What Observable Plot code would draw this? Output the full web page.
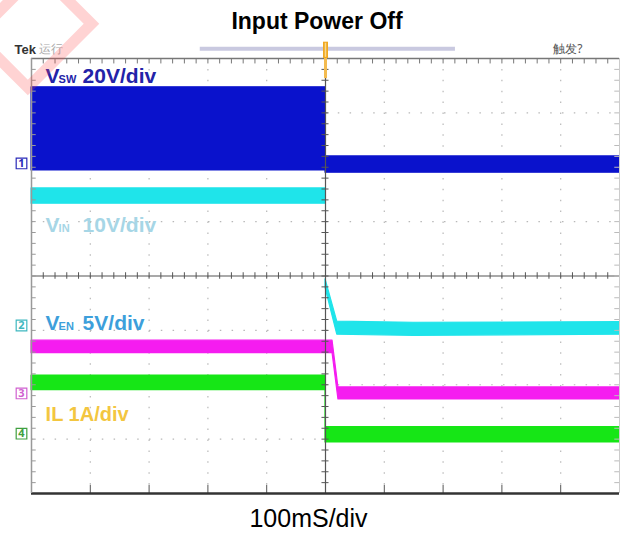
<!DOCTYPE html>
<html>
<head>
<meta charset="utf-8">
<script src="https://cdn.jsdelivr.net/npm/d3@7"></script>
<script src="https://cdn.jsdelivr.net/npm/@observablehq/plot@0.6"></script>
<style>
  html, body { margin: 0; padding: 0; background: #fff; }
  #wrap { position: relative; width: 624px; height: 533px; overflow: hidden; font-family: "Liberation Sans", Arial, sans-serif; }
  #title { position: absolute; left: 0; top: 0; width: 634px; height: 38px; text-align: center; font-weight: bold; font-size: 23px; line-height: 42px; color: #000; }
  #chart { position: absolute; left: 0; top: 38px; }
  #caption { position: absolute; left: 0; top: 500px; width: 617px; text-align: center; font-size: 25px; line-height: 36px; color: #000; }
  .wm { position: absolute; box-sizing: border-box; border: 11px solid rgba(255, 70, 70, 0.24); transform: rotate(45deg); pointer-events: none; }
</style>
</head>
<body>
<div id="wrap">
  <div id="title">Input Power Off</div>
  <div id="chart"></div>
  <div id="caption">100mS/div</div>
  <div class="wm" style="left:-9px; top:-21px; width:85px; height:101px;"></div>
</div>
<script>
// ---- Data (x in divisions 0..10, 100 mS/div; y in divisions -4..4) ----
const vswT  = [0, 5, 5, 10];
const vswLo = [1.94, 1.94, 1.90, 1.90];
const vswHi = [3.47, 3.47, 2.20, 2.20];

const vinT  = [0, 5];
const vinLo = [1.33, 1.33];
const vinHi = [1.61, 1.61];

const venT  = [5, 5.2, 6.5, 10];
const venLo = [-0.22, -1.08, -1.10, -1.08];
const venHi = [-0.06, -0.84, -0.86, -0.85];

const magT  = [0, 5.12, 5.22, 10];
const magLo = [-1.42, -1.42, -2.27, -2.27];
const magHi = [-1.19, -1.19, -2.05, -2.05];

const grnT  = [0, 5, 5, 10];
const grnLo = [-2.10, -2.10, -3.06, -3.06];
const grnHi = [-1.83, -1.83, -2.78, -2.78];

const traceNames  = ["Vsw", "Vin", "Ven", "Mag", "Grn"];
const traceColors = ["#0a12cc", "#1fe4ea", "#1fe4ea", "#f51cf0", "#16e616"];

const labelMain  = ["V", "V", "V", "IL 1A/div"];
const labelSub   = ["SW", "IN", "EN", ""];
const labelRest  = ["20V/div", "10V/div", "5V/div", ""];
const labelY     = [3.67, 0.93, -0.87, -2.55];
const labelColor = ["#2323a8", "#a6d6e6", "#3d9fdb", "#f3c640"];

const markerText  = ["1", "2", "3", "4"];
const markerY     = [2.07, -0.91, -2.16, -2.9];
const markerColor = ["#2a2ab8", "#3fb8c0", "#d060d0", "#40a040"];

// ---- Build tables ----
function band(name, t, lo, hi) { return t.map((v, i) => ({name, t: v, lo: lo[i], hi: hi[i]})); }
const bands = [
  band("Vsw", vswT, vswLo, vswHi),
  band("Vin", vinT, vinLo, vinHi),
  band("Ven", venT, venLo, venHi),
  band("Mag", magT, magLo, magHi),
  band("Grn", grnT, grnLo, grnHi)
];
const labels = labelMain.map((m, i) => ({main: m, sub: labelSub[i], rest: labelRest[i], y: labelY[i], color: labelColor[i]}));
const markers = markerText.map((m, i) => ({text: m, y: markerY[i], color: markerColor[i]}));

const majorX = d3.range(0, 11);
const majorY = d3.range(-4, 5);
const minorX = d3.range(0, 50.001).map(i => i / 5);
const minorY = d3.range(0, 40.001).map(i => -4 + i / 5);

const font = "'Liberation Sans', Arial, sans-serif";

const marks = [
  // dotted grid
  Plot.ruleX(majorX.filter(d => d > 0 && d < 10 && d !== 5), {stroke: "#b8b8b8", strokeDasharray: "1.5,9.4", strokeWidth: 1.2}),
  Plot.ruleY(majorY.filter(d => d > -4 && d < 4 && d !== 0), {stroke: "#b8b8b8", strokeDasharray: "1.5,10.3", strokeWidth: 1.2}),
  // traces
  ...bands.map((b, i) => Plot.areaY(b, {x: "t", y1: "lo", y2: "hi", fill: traceColors[i], stroke: traceColors[i], strokeWidth: 1.2, curve: "linear"})),
  // center cross
  Plot.ruleX([5], {stroke: "#555", strokeWidth: 1.2}),
  Plot.ruleY([0], {stroke: "#555", strokeWidth: 1.2}),
  Plot.ruleX(minorX, {y1: -0.06, y2: 0.06, stroke: "#555"}),
  Plot.ruleY(minorY, {x1: 4.94, x2: 5.06, stroke: "#555"}),
  // border ticks
  Plot.ruleX(minorX, {y1: 3.9, y2: 4, stroke: "#777"}),
  Plot.ruleX(majorX, {y1: -4, y2: -3.85, stroke: "#555"}),
  Plot.ruleY(minorY, {x1: 0, x2: 0.08, stroke: "#999"}),
  Plot.ruleY(minorY, {x1: 9.92, x2: 10, stroke: "#bbb"}),
  // frame
  Plot.ruleY([4], {stroke: "#777", strokeWidth: 1.5}),
  Plot.ruleY([-4], {stroke: "#333", strokeWidth: 2.5}),
  Plot.ruleX([0], {stroke: "#999", strokeWidth: 1.5}),
  Plot.ruleX([10], {stroke: "#ccc", strokeWidth: 1}),
  // record-length bar and trigger marker
  Plot.ruleY([4.18], {x1: 2.87, x2: 7.21, stroke: "#c9c9e0", strokeWidth: 4}),
  Plot.ruleX([5], {y1: 4.3, y2: 4, stroke: "#f0a820", strokeWidth: 5}),
  Plot.ruleX([5], {y1: 4.28, y2: 4.02, stroke: "#f8d890", strokeWidth: 1.5}),
  Plot.ruleX([5], {y1: 4, y2: 3.63, stroke: "#f3bb50", strokeWidth: 3}),
  // labels
  Plot.text(labels.filter(d => d.sub), {x: 0.24, y: "y", text: "main", fill: "color", fontSize: 21, fontWeight: "bold", fontFamily: font, textAnchor: "start"}),
  Plot.text(labels.filter(d => d.sub), {x: 0.24, y: "y", text: "sub", fill: "color", fontSize: 11, fontWeight: "bold", fontFamily: font, textAnchor: "start", dx: 13, dy: 3.5}),
  Plot.text(labels.filter(d => d.sub), {x: 0.24, y: "y", text: "rest", fill: "color", fontSize: 21, fontWeight: "bold", fontFamily: font, textAnchor: "start", dx: 37}),
  Plot.text(labels.filter(d => !d.sub), {x: 0.24, y: "y", text: "main", fill: "color", fontSize: 20, fontWeight: "bold", fontFamily: font, textAnchor: "start"}),
  // channel markers
  Plot.dot(markers, {x: 0, y: "y", symbol: "square", r: 6, stroke: "color", fill: "white", strokeWidth: 1.2, dx: -10}),
  Plot.text(markers, {x: 0, y: "y", text: "text", fill: "color", fontSize: 11, fontWeight: "bold", dx: -10}),
  // header texts
  Plot.text(["Tek"], {x: 0, y: 4, text: d => d, dx: -17, dy: -9, textAnchor: "start", fontSize: 13, fontWeight: "bold", fill: "#333", fontFamily: font}),
  Plot.text(["运行"], {x: 0, y: 4, text: d => d, dx: 7, dy: -9, textAnchor: "start", fontSize: 12, fill: "#aaa"}),
  Plot.text(["触发?"], {x: 10, y: 4, text: d => d, dx: -37, dy: -9, textAnchor: "end", fontSize: 12, fill: "#555"})
];

const chart = Plot.plot({
  width: 624,
  height: 462,
  marginLeft: 31,
  marginRight: 5,
  marginTop: 20,
  marginBottom: 7,
  x: {domain: [0, 10], axis: null},
  y: {domain: [-4, 4], axis: null},
  style: {background: "transparent", overflow: "visible"},
  marks
});
document.getElementById("chart").appendChild(chart);
</script>
</body>
</html>
